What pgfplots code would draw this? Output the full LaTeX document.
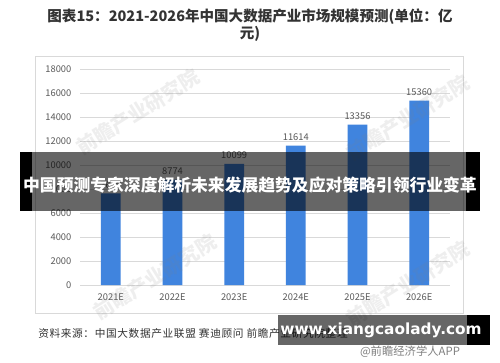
\documentclass[border=0pt]{standalone}
\usepackage{fontspec}
\setmainfont{Noto Sans CJK SC}
\newfontfamily\srcfont{Noto Sans CJK SC}[LetterSpace=6]
\newfontfamily\urlfont{DejaVu Sans}
\usepackage{pgfplots}
\pgfplotsset{compat=1.18}
\definecolor{barblue}{RGB}{64,132,222}
\definecolor{gridgray}{RGB}{217,217,217}
\definecolor{ticktext}{RGB}{89,89,89}
\definecolor{titletext}{RGB}{51,51,51}
\begin{document}
\begin{tikzpicture}
\begin{scope}[x=0.75pt,y=0.75pt]
\useasboundingbox (0,0) rectangle (500,-362);
\fill[white] (0,0) rectangle (500,-362);
\node[font=\bfseries\fontsize{10.9}{12}\selectfont, text=titletext] at (250,-17) {图表15：2021-2026年中国大数据产业市场规模预测(单位：亿};
\node[font=\bfseries\fontsize{10.9}{12}\selectfont, text=titletext] at (250,-34) {元)};
\draw[gridgray, line width=0.75pt] (35,-57) rectangle (463,-313);
\end{scope}
\begin{axis}[
  at={(60pt,-213.75pt)}, anchor=south west,
  width=277.5pt, height=162pt, scale only axis,
  xmin=-0.5, xmax=5.5, ymin=0, ymax=18000,
  ytick={0,2000,...,18000},
  scaled y ticks=false,
  xtick=data,
  xticklabels={2021E,2022E,2023E,2024E,2025E,2026E},
  ymajorgrids, grid style={gridgray, line width=0.7pt},
  axis line style={draw=none},
  major tick length=0pt,
  tick label style={font=\fontsize{7}{8}\selectfont, text=ticktext},
  yticklabel style={xshift=-3pt},
  xticklabel style={yshift=-3pt},
  /pgf/number format/assume math mode=true,
  /pgf/number format/1000 sep={},
  ybar, bar width=0.32,
  nodes near coords,
  every node near coord/.append style={font=\fontsize{7}{8}\selectfont, text=ticktext, /pgf/number format/assume math mode=true, /pgf/number format/1000 sep={}},
]
\addplot[fill=barblue, draw=none] coordinates {(0,7630) (1,8774) (2,10099) (3,11614) (4,13356) (5,15360)};
\end{axis}
\begin{scope}[x=0.75pt,y=0.75pt]
% watermarks
\begin{scope}[opacity=0.13, text=gray]
\node[rotate=32, font=\bfseries\fontsize{15}{16}\selectfont] at (138,-112) {前瞻产业研究院};
\node[rotate=32, font=\bfseries\fontsize{15}{16}\selectfont] at (408,-118) {前瞻产业研究院};
\node[rotate=32, font=\bfseries\fontsize{15}{16}\selectfont] at (155,-277) {前瞻产业研究院};
\node[rotate=32, font=\bfseries\fontsize{15}{16}\selectfont] at (408,-284) {前瞻产业研究院};
\end{scope}
% banner
\fill[black, opacity=0.6] (32,-152) rectangle (466,-211);
\fill[black] (20,-152) rectangle (32,-211);
\fill[black] (466,-152) rectangle (480,-211);
\node[text=white, font=\bfseries\fontsize{12.6}{14}\selectfont] at (250,-185) {中国预测专家深度解析未来发展趋势及应对策略引领行业变革};
% source
\node[anchor=west, font=\srcfont\fontsize{8}{9}\selectfont, text=titletext, inner sep=0pt] at (38,-333) {资料来源：中国大数据产业联盟 赛迪顾问 前瞻产业研究院整理};
\node[font=\fontsize{8.5}{9}\selectfont, text=gray] at (410,-352) {@前瞻经济学人APP};
\fill[black, opacity=0.6] (278,-315) rectangle (467,-345);
\fill[black] (467,-315) rectangle (490,-345);
\node[text=white, font=\urlfont\bfseries\fontsize{11.5}{12}\selectfont] at (381,-330) {www.xiangcaolady.com};
\end{scope}
\end{tikzpicture}
\end{document}
